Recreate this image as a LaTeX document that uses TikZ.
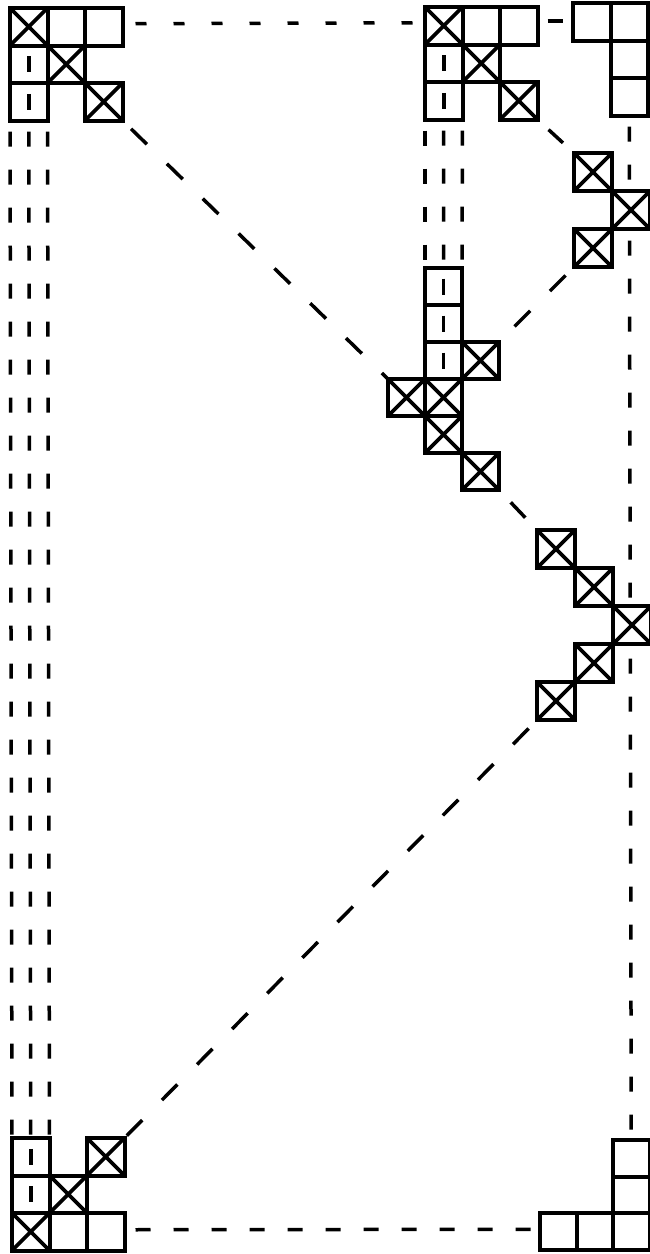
\documentclass[tikz,border=0pt]{standalone}
\usetikzlibrary{backgrounds}
\tikzset{
  cellbox/.style={draw=black, fill=white, line width=4pt, minimum size=#1,
    inner sep=0pt, outer sep=0pt, anchor=north west},
  cellbox/.default=37.5pt,
  xmark/.style={path picture={\draw[line width=3.6pt]
    (path picture bounding box.north west) -- (path picture bounding box.south east)
    (path picture bounding box.north east) -- (path picture bounding box.south west);}},
  tick/.style={path picture={\draw[line width=3.5pt]
    ([yshift=8pt]path picture bounding box.center) -- ([yshift=-8pt]path picture bounding box.center);}},
  conn/.style={line width=3.5pt, dash pattern=on 15pt off 23pt, dash phase=27pt},
  hconn/.style={line width=3.5pt, dash pattern=on 11pt off 27pt, dash phase=25pt},
  slant/.style={line width=3.5pt, dash pattern=on 22pt off 28pt, dash phase=38pt},
  onedash/.style={line width=3.5pt, shorten <=#1, shorten >=#1},
}
\begin{document}
\begin{tikzpicture}[x=1pt,y=-1pt]
\useasboundingbox (0,0) rectangle (649,1254);

% top-left block
\node[cellbox, xmark] (tl00) at (10,8) {};
\node[cellbox] (tl10) at (47.5,8) {};
\node[cellbox] (tl20) at (85,8) {};
\node[cellbox, tick] (tl01) at (10,45.5) {};
\node[cellbox, xmark] (tl11) at (47.5,45.5) {};
\node[cellbox, tick] (tl02) at (10,83) {};
\node[cellbox, xmark] (tl22) at (85,83) {};

% top-middle block
\node[cellbox, xmark] (tm00) at (425,7) {};
\node[cellbox] (tm10) at (462.5,7) {};
\node[cellbox] (tm20) at (500,7) {};
\node[cellbox, tick] (tm01) at (425,44.5) {};
\node[cellbox, xmark] (tm11) at (462.5,44.5) {};
\node[cellbox, tick] (tm02) at (425,82) {};
\node[cellbox, xmark] (tm22) at (500,82) {};

% top-right block
\node[cellbox] (tr00) at (573,3) {};
\node[cellbox] (tr10) at (610.5,3) {};
\node[cellbox] (tr11) at (610.5,40.5) {};
\node[cellbox] (tr12) at (610.5,78) {};

% cluster A
\node[cellbox=38pt, xmark] (a00) at (574,153) {};
\node[cellbox=38pt, xmark] (a11) at (612,191) {};
\node[cellbox=38pt, xmark] (a02) at (574,229) {};

% middle block
\node[cellbox=37pt, tick] (m10) at (425,268) {};
\node[cellbox=37pt, tick] (m11) at (425,305) {};
\node[cellbox=37pt, tick] (m12) at (425,342) {};
\node[cellbox=37pt, xmark] (m22) at (462,342) {};
\node[cellbox=37pt, xmark] (m03) at (388,379) {};
\node[cellbox=37pt, xmark] (m13) at (425,379) {};
\node[cellbox=37pt, xmark] (m14) at (425,416) {};
\node[cellbox=37pt, xmark] (m25) at (462,453) {};

% cluster B
\node[cellbox=38pt, xmark] (b00) at (537,530) {};
\node[cellbox=38pt, xmark] (b11) at (575,568) {};
\node[cellbox=38pt, xmark] (b22) at (613,606) {};
\node[cellbox=38pt, xmark] (b13) at (575,644) {};
\node[cellbox=38pt, xmark] (b04) at (537,682) {};

% bottom-left block
\node[cellbox, tick] (bl00) at (12,1138) {};
\node[cellbox, xmark] (bl20) at (87,1138) {};
\node[cellbox, tick] (bl01) at (12,1175.5) {};
\node[cellbox, xmark] (bl11) at (49.5,1175.5) {};
\node[cellbox, xmark] (bl02) at (12,1213) {};
\node[cellbox] (bl12) at (49.5,1213) {};
\node[cellbox] (bl22) at (87,1213) {};

% bottom-right block
\node[cellbox=36.5pt] (br20) at (613,1140) {};
\node[cellbox=36.5pt] (br21) at (613,1176.5) {};
\node[cellbox=36.5pt] (br02) at (540,1213) {};
\node[cellbox=36.5pt] (br12) at (576.5,1213) {};
\node[cellbox=36.5pt] (br22) at (613,1213) {};

\begin{scope}[on background layer]
  \fill[white] (0,0) rectangle (649,1254);
  % left triple verticals
  \draw[conn] (tl02.south west) -- (bl00.north west);
  \draw[conn] (tl02.south) -- (bl00.north);
  \draw[conn] (tl02.south east) -- (bl00.north east);
  % middle triple verticals
  \draw[conn] (tm02.south west) -- (m10.north west);
  \draw[conn] (tm02.south) -- (m10.north);
  \draw[conn] (tm02.south east) -- (m10.north east);
  % right vertical
  \draw[conn] (tr12.south) -- (br20.north);
  % horizontals
  \draw[hconn] ([yshift=3pt]tl20.east) -- ([yshift=3pt]tm00.west);
  \draw[onedash=10pt] ([yshift=5pt]tm20.east) -- ([yshift=1pt]tr00.west);
  \draw[conn] ([yshift=2pt]bl22.east) -- ([yshift=2pt]br02.west);
  % diagonals
  \draw[slant] (tl22.south east) -- (m03.north west);
  \draw[onedash=15pt] (tm22.south east) -- (a00.north west);
  \draw[slant] (a02.south west) -- (m22.north east);
  \draw[onedash=17pt] (m25.south east) -- (b00.north west);
  \draw[slant] (b04.south west) -- (bl20.north east);
\end{scope}
\end{tikzpicture}
\end{document}
